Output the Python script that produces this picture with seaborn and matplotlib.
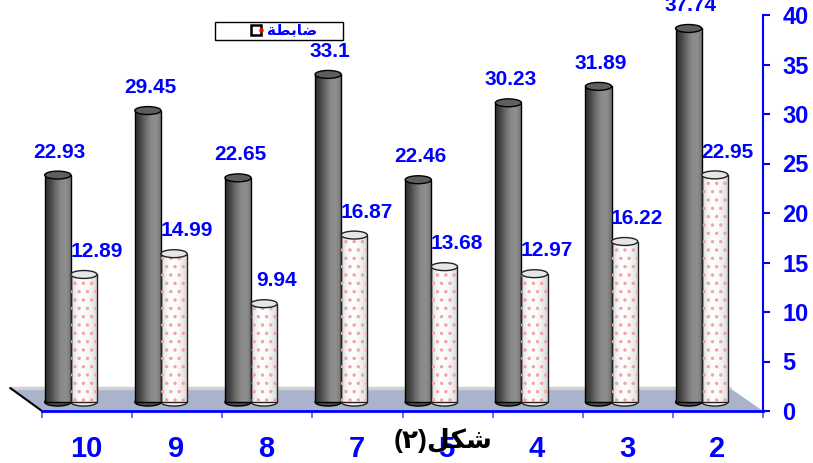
import numpy as np
import pandas as pd
import matplotlib
matplotlib.use("Agg")
import matplotlib.pyplot as plt
import seaborn as sns
from matplotlib.patches import Polygon, Ellipse, Rectangle
from matplotlib.lines import Line2D
from matplotlib.legend_handler import HandlerTuple
import matplotlib.patheffects as pe
from matplotlib.colors import LinearSegmentedColormap

# ---------------- data ----------------
categories = ["10", "9", "8", "7", "5", "4", "3", "2"]
series_dark = [22.93, 29.45, 22.65, 33.1, 22.46, 30.23, 31.89, 37.74]
series_light = [12.89, 14.99, 9.94, 16.87, 13.68, 12.97, 16.22, 22.95]
series_names = ["تجريبية", "ضابطة"]
y_ticks = [0, 5, 10, 15, 20, 25, 30, 35, 40]
legend_label = "ضابطة"
title_word = "شكل"
title_num = "(٢)"

# minimal Arabic shaping (presentation forms, visual order)
FORMS = {
    'ا': ('\uFE8D', '\uFE8E', None, None),
    'ب': ('\uFE8F', '\uFE90', '\uFE91', '\uFE92'),
    'ة': ('\uFE93', '\uFE94', None, None),
    'ش': ('\uFEB5', '\uFEB6', '\uFEB7', '\uFEB8'),
    'ض': ('\uFEBD', '\uFEBE', '\uFEBF', '\uFEC0'),
    'ط': ('\uFEC1', '\uFEC2', '\uFEC3', '\uFEC4'),
    'ك': ('\uFED9', '\uFEDA', '\uFEDB', '\uFEDC'),
    'ل': ('\uFEDD', '\uFEDE', '\uFEDF', '\uFEE0'),
}


def shape(word):
    out = []
    n = len(word)
    for i, ch in enumerate(word):
        f = FORMS[ch]
        prev_joins = i > 0 and FORMS[word[i - 1]][2] is not None
        next_join = i < n - 1 and f[2] is not None
        if prev_joins and next_join:
            g = f[3]
        elif prev_joins:
            g = f[1]
        elif next_join:
            g = f[2]
        else:
            g = f[0]
        out.append(g)
    return ''.join(reversed(out))


sns.set_style("white")
FAM = ['Liberation Sans', 'DejaVu Sans']
plt.rcParams['font.family'] = FAM
plt.rcParams['hatch.linewidth'] = 1.0

BLUE = "#0000ff"
W, H = 813, 463
DEPTH = 0.9   # 3D depth lift of the cylinders above the front floor edge

df = pd.DataFrame({
    "category": categories * 2,
    "value": series_dark + series_light,
    "series": [series_names[0]] * len(categories) + [series_names[1]] * len(categories),
})

fig = plt.figure(figsize=(W / 100, H / 100), dpi=100)
fig.patch.set_facecolor("white")
ax = fig.add_axes([42 / W, 1 - 411 / H, 721 / W, 396 / H])
ax.set_facecolor("none")

sns.barplot(data=df, x="category", y="value", hue="series", order=categories,
            hue_order=series_names, width=0.58, dodge=True,
            palette=["#555555", "#ffffff"], saturation=1, legend=False,
            ax=ax, zorder=3, errorbar=None)

xlim = (-0.32, len(categories) - 0.32)
ylim = (0, 40)

# floor (3D base) in axes coords
floor = Polygon([(0, 0), (1, 0), (0.954, 0.058), (-0.044, 0.058)], closed=True,
                transform=ax.transAxes, facecolor="#a9b3cb", edgecolor="none",
                zorder=1, clip_on=False)
ax.add_patch(floor)
ax.plot([-0.044, 0.954], [0.058, 0.058], transform=ax.transAxes, color="#d0d0d0",
        lw=2.5, zorder=1.1, clip_on=False)
ax.plot([-0.044, 0], [0.058, 0], transform=ax.transAxes, color="black",
        lw=1.5, zorder=1.2, clip_on=False)

dark_cmap = LinearSegmentedColormap.from_list(
    "d", ["#2c2c2c", "#464646", "#6c6c6c", "#8a8a8a", "#8e8e8e", "#707070"])
light_cmap = LinearSegmentedColormap.from_list(
    "l", ["#d8d8d8", "#f4f4f4", "#ffffff", "#fafafa", "#ececec", "#d2d2d2"])
grad = np.linspace(0, 1, 256).reshape(1, -1)

styles = [
    (ax.containers[0], dark_cmap, "#5e5e5e", "#4a4a4a", "black", series_dark, 1.5),
    (ax.containers[1], light_cmap, "#e6e6e6", "#eeeeee", "#222222", series_light, 9.0),
]
for cont, cmap, capcol, botcol, edgecol, vals, dx in styles:
    for bar, v in zip(cont, vals):
        x0, w, h = bar.get_x(), bar.get_width(), bar.get_height()
        bar.set_y(DEPTH)
        # rounded bottom of the cylinder
        ax.add_patch(Ellipse((x0 + w / 2, DEPTH), w, 0.8, facecolor=botcol,
                             edgecolor=edgecol, lw=1.0, zorder=2.4))
        im = ax.imshow(grad, extent=[x0, x0 + w, DEPTH, DEPTH + h], aspect='auto',
                       cmap=cmap, zorder=2.5, interpolation='bicubic')
        im.set_clip_path(bar)
        if cmap is light_cmap:
            bar.set_facecolor("none")
            bar.set_edgecolor("#f3a3a3")
            bar.set_hatch("..")
            bar.set_linewidth(0)
            bar.set_path_effects([pe.Stroke(linewidth=1.0, foreground=edgecol), pe.Normal()])
        else:
            bar.set_facecolor("none")
            bar.set_edgecolor(edgecol)
            bar.set_linewidth(1.0)
        ax.add_patch(Ellipse((x0 + w / 2, DEPTH + h), w, 0.8, facecolor=capcol,
                             edgecolor=edgecol, lw=1.0, zorder=4))
        ax.annotate(f"{v:g}", xy=(x0 + w / 2, DEPTH + h), xytext=(dx, 12.5),
                    textcoords='offset points', ha='center', va='baseline',
                    color=BLUE, fontsize=15, fontweight='bold', zorder=6,
                    annotation_clip=False)

ax.set_xlim(*xlim)
ax.set_ylim(*ylim)

# axes styling
for s in ["left", "top"]:
    ax.spines[s].set_visible(False)
ax.spines["right"].set_color(BLUE)
ax.spines["right"].set_linewidth(1.5)
ax.spines["bottom"].set_color(BLUE)
ax.spines["bottom"].set_linewidth(2)
ax.spines["right"].set_zorder(5)
ax.spines["bottom"].set_zorder(5)

ax.yaxis.tick_right()
ax.set_yticks(y_ticks)
ax.set_yticklabels([str(t) for t in y_ticks])
ax.tick_params(axis='y', which='major', right=True, left=False, direction='out',
               length=5, width=1.5, color=BLUE, pad=9, labelcolor=BLUE,
               labelsize=17)
for lab in ax.get_yticklabels():
    lab.set_fontweight('bold')

ax.set_xticks(np.arange(len(categories)) + 0.17)
ax.set_xticklabels(categories)
ax.set_xticks(np.arange(len(categories) + 1) - 0.32, minor=True)
ax.tick_params(axis='x', which='major', length=0, pad=17, labelcolor=BLUE,
               labelsize=21)
ax.tick_params(axis='x', which='minor', bottom=True, direction='out', length=5,
               width=1.2, color="#5555ff")
for lab in ax.get_xticklabels():
    lab.set_fontweight('bold')
ax.set_xlabel("")
ax.set_ylabel("")

# legend
fig.patches.append(Rectangle((215 / W, 1 - 40 / H), 128 / W, 18 / H,
                             transform=fig.transFigure, facecolor="white",
                             edgecolor="black", lw=1, zorder=3))
sq = Line2D([], [], marker='s', linestyle='none', markersize=7,
            markerfacecolor='white', markeredgecolor='black', markeredgewidth=1.8)
dot = Line2D([], [], marker='o', linestyle='none', markersize=2.2,
             markerfacecolor='red', markeredgecolor='red')
leg = fig.legend([(sq, dot)], [shape(legend_label)],
                 handler_map={tuple: HandlerTuple(ndivide=None)},
                 loc='center', bbox_to_anchor=(285 / W, 1 - 31 / H),
                 frameon=False, handlelength=0.7, handletextpad=0.2,
                 borderpad=0, prop=dict(family=FAM, weight='bold', size=11))
leg.set_zorder(6)
for t in leg.get_texts():
    t.set_color(BLUE)

# caption
fig.text(443 / W, 1 - 448 / H, title_num + shape(title_word), ha='center',
         va='baseline', fontsize=19, fontweight='bold', color='black',
         family=FAM)

fig.savefig("out.png", dpi=100, facecolor="white")
